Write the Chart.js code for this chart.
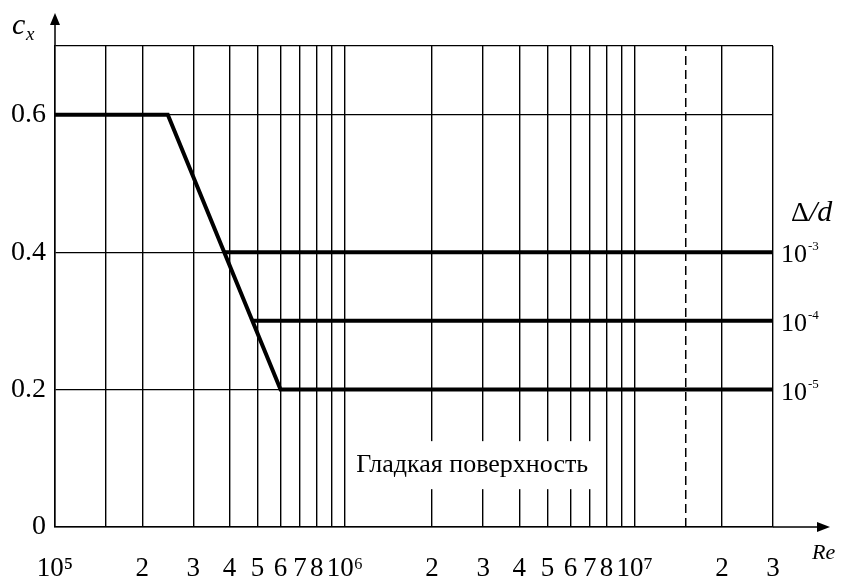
<!DOCTYPE html>
<html>
<head>
<meta charset="utf-8">
<script src="https://cdn.jsdelivr.net/npm/chart.js@4/dist/chart.umd.min.js"></script>
<style>
  html, body { margin: 0; padding: 0; background: #fff; }
</style>
</head>
<body>
<canvas id="cx-chart" width="850" height="581"></canvas>
<script>
// Re values with a vertical grid line, and the label under each one
const reGrid = [1e5, 1.5e5, 2e5, 3e5, 4e5, 5e5, 6e5, 7e5, 8e5, 9e5,
                1e6, 2e6, 3e6, 4e6, 5e6, 6e6, 7e6, 8e6, 9e6,
                1e7, 1.5e7, 2e7, 3e7];
const reLabels = ['10⁵', '', '2', '3', '4', '5', '6', '7', '8', '',
                  '10⁶', '2', '3', '4', '5', '6', '7', '8', '',
                  '10⁷', '', '2', '3'];
// c_x grid lines and labels
const cxGrid = [0, 0.2, 0.4, 0.6, 0.7];
const cxLabels = ['0', '0.2', '0.4', '0.6', ''];

// smooth surface (continues as the 10^-5 line)
const smoothRe = [1e5, 2.45e5, 6e5, 3e7];
const smoothCx = [0.6, 0.6, 0.2, 0.2];
// Δ/d = 10^-3
const rough3Re = [3.85e5, 3e7];
const rough3Cx = [0.4, 0.4];
// Δ/d = 10^-4
const rough4Re = [4.8e5, 3e7];
const rough4Cx = [0.3, 0.3];
// dashed marker line at 1.5·10^7
const dashRe = [1.5e7, 1.5e7];
const dashCx = [0, 0.7];

// right-hand labels for the roughness lines
const roughExp = ['-3', '-4', '-5'];
const roughCx = [0.4, 0.3, 0.2];

const serif = '"Liberation Serif", "DejaVu Serif", serif';
const pts = (xs, ys) => xs.map((v, i) => ({ x: v, y: ys[i] }));

const thick = {
    borderColor: '#000',
    borderWidth: 4,
    pointRadius: 0,
    fill: false,
    tension: 0,
};

// draws "10" with a small raised exponent
function drawPower(ctx, exp, x, y, size) {
    ctx.font = size + 'px ' + serif;
    ctx.textAlign = 'left';
    ctx.textBaseline = 'alphabetic';
    ctx.fillText('10', x, y);
    const w = ctx.measureText('10').width;
    ctx.font = Math.round(size * 0.5) + 'px ' + serif;
    ctx.fillText(exp, x + w + 1, y - size * 0.45);
}

const decorations = {
    id: 'decorations',
    afterDraw(chart) {
        const { ctx, chartArea: a, scales: { x, y } } = chart;
        ctx.save();
        ctx.fillStyle = '#000';
        ctx.strokeStyle = '#000';

        // axis arrows
        ctx.lineWidth = 1.5;
        ctx.beginPath();
        ctx.moveTo(a.left, a.top);
        ctx.lineTo(a.left, 22);
        ctx.moveTo(a.right, a.bottom);
        ctx.lineTo(820, a.bottom);
        ctx.stroke();
        ctx.beginPath();
        ctx.moveTo(a.left, 13);
        ctx.lineTo(a.left - 5, 25);
        ctx.lineTo(a.left + 5, 25);
        ctx.closePath();
        ctx.fill();
        ctx.beginPath();
        ctx.moveTo(830, a.bottom);
        ctx.lineTo(817, a.bottom - 5);
        ctx.lineTo(817, a.bottom + 5);
        ctx.closePath();
        ctx.fill();

        // axis titles
        ctx.font = 'italic 30px ' + serif;
        ctx.textAlign = 'left';
        ctx.textBaseline = 'alphabetic';
        ctx.fillText('c', 12, 34);
        ctx.font = 'italic 19px ' + serif;
        ctx.fillText('x', 26, 40);
        ctx.font = 'italic 22px ' + serif;
        ctx.fillText('Re', 812, 559);

        // Δ/d heading: upright delta, italic slash and d
        const hy = y.getPixelForValue(0.46) + 10;
        ctx.font = '28px ' + serif;
        ctx.fillText('Δ', 791, hy);
        const dw = ctx.measureText('Δ').width;
        ctx.font = 'italic 30px ' + serif;
        ctx.fillText('/d', 791 + dw, hy);

        // roughness labels
        roughExp.forEach((e, i) => {
            drawPower(ctx, e, a.right + 8, y.getPixelForValue(roughCx[i]) + 10, 26);
        });

        // smooth surface caption on a white box
        const label = 'Гладкая поверхность';
        const cx = x.getPixelForValue(2.75e6);
        const cy = y.getPixelForValue(0.09);
        ctx.font = '26px ' + serif;
        const w = ctx.measureText(label).width;
        ctx.fillStyle = '#fff';
        ctx.fillRect(cx - w / 2 - 7, cy - 24, w + 14, 48);
        ctx.fillStyle = '#000';
        ctx.textAlign = 'center';
        ctx.textBaseline = 'middle';
        ctx.fillText(label, cx, cy);
        ctx.restore();
    }
};

const ctx = document.getElementById('cx-chart').getContext('2d');

const cxChart = new Chart(ctx, {
    type: 'line',
    data: {
        datasets: [
            { ...thick, label: 'smooth', data: pts(smoothRe, smoothCx) },
            { ...thick, label: '1e-3', data: pts(rough3Re, rough3Cx) },
            { ...thick, label: '1e-4', data: pts(rough4Re, rough4Cx) },
            { ...thick, label: 'dash', data: pts(dashRe, dashCx), borderWidth: 1.5, borderDash: [9, 5] },
        ]
    },
    options: {
        responsive: false,
        animation: false,
        layout: { padding: { top: 46, right: 77, bottom: 0, left: 0 } },
        plugins: {
            legend: { display: false },
            tooltip: { enabled: false },
        },
        scales: {
            x: {
                type: 'logarithmic',
                min: 1e5,
                max: 3e7,
                afterBuildTicks: s => { s.ticks = reGrid.map(v => ({ value: v })); },
                afterFit: s => { s.height = 54; },
                ticks: {
                    autoSkip: false,
                    maxRotation: 0,
                    minRotation: 0,
                    padding: 26,
                    color: '#000',
                    font: { family: serif, size: 27 },
                    callback: (v, i) => reLabels[i],
                },
                grid: {
                    drawTicks: false,
                    lineWidth: 1.4,
                    color: c => (c.tick && c.tick.value === 1.5e7) ? 'rgba(0,0,0,0)' : '#000',
                },
                border: { color: '#000', width: 1.5 },
            },
            y: {
                min: 0,
                max: 0.7,
                afterBuildTicks: s => { s.ticks = cxGrid.map(v => ({ value: v })); },
                afterFit: s => { s.width = 55; },
                ticks: {
                    padding: 9,
                    color: '#000',
                    font: { family: serif, size: 28 },
                    callback: (v, i) => cxLabels[i],
                },
                grid: {
                    drawTicks: false,
                    lineWidth: 1.2,
                    color: '#000',
                },
                border: { color: '#000', width: 1.5 },
            },
        },
    },
    plugins: [decorations],
});
</script>
</body>
</html>
